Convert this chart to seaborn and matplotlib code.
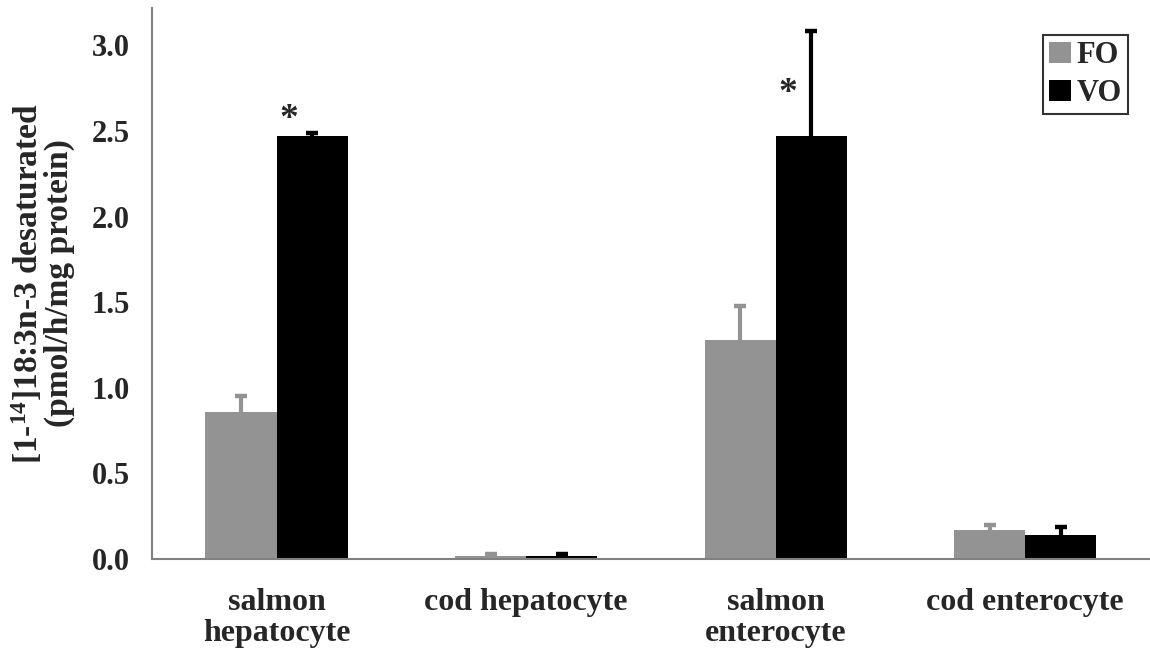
import matplotlib
matplotlib.use("Agg")
import matplotlib.pyplot as plt
import seaborn as sns
import pandas as pd
import numpy as np
from matplotlib.patches import Patch

categories = ['salmon\nhepatocyte', 'cod hepatocyte', 'salmon\nenterocyte', 'cod enterocyte']
groups = ['FO', 'VO']
fo_mean = [0.86, 0.015, 1.28, 0.17]
fo_err = [0.09, 0.016, 0.20, 0.028]
vo_mean = [2.47, 0.015, 2.47, 0.14]
vo_err = [0.018, 0.016, 0.615, 0.048]
signif = ['*', '', '*', '']
star_y = [2.57, 0.0, 2.72, 0.0]
yticks = [0.0, 0.5, 1.0, 1.5, 2.0, 2.5, 3.0]

sns.set_style("white")
plt.rcParams['font.family'] = ['Liberation Serif', 'DejaVu Serif']
plt.rcParams['font.weight'] = 'bold'
plt.rcParams['mathtext.fontset'] = 'custom'
plt.rcParams['mathtext.rm'] = 'Liberation Serif:bold'
plt.rcParams['mathtext.it'] = 'Liberation Serif:bold'
plt.rcParams['mathtext.bf'] = 'Liberation Serif:bold'

colors = {'FO': '#939393', 'VO': '#000000'}

df = pd.DataFrame({
    'cat': categories * 2,
    'grp': ['FO'] * 4 + ['VO'] * 4,
    'val': fo_mean + vo_mean,
})

fig = plt.figure(figsize=(11.5, 6.52), dpi=100)
ax = fig.add_axes([0.132, 0.1426, 0.868, 0.8454])
sns.barplot(data=df, x='cat', y='val', hue='grp', order=categories, hue_order=groups,
            palette=colors, errorbar=None, width=0.57, ax=ax, legend=False,
            saturation=1, linewidth=0)

errs = {'FO': fo_err, 'VO': vo_err}
means = {'FO': fo_mean, 'VO': vo_mean}
for cont, g in zip(ax.containers, groups):
    for i, bar in enumerate(cont):
        xc = bar.get_x() + bar.get_width() / 2
        top = means[g][i] + errs[g][i]
        ax.vlines(xc, means[g][i], top, colors=colors[g], linewidth=3, zorder=3)
        ax.plot([xc], [top], marker='_', markersize=9, markeredgewidth=3.2,
                color=colors[g], zorder=3)

vo_cont = ax.containers[1]
for i, s in enumerate(signif):
    if s:
        bar = vo_cont[i]
        xc = bar.get_x() + bar.get_width() * 0.17
        ax.text(xc, star_y[i], s, ha='center', va='center', fontsize=27, fontweight='bold')

ax.set_xlim(-0.5, 3.5)
ax.set_ylim(0, 3.22)
ax.set_yticks(yticks)
ax.set_yticklabels([f'{v:.1f}' for v in yticks], fontsize=22, fontweight='bold')
ax.set_xticks(range(4))
ax.set_xticklabels(categories, fontsize=23, fontweight='bold', linespacing=1.08)
ax.set_xticks([-0.5, 0.5, 1.5, 2.5, 3.5], minor=True)
ax.tick_params(axis='x', which='major', length=0, pad=21)
ax.tick_params(axis='x', which='minor', length=8, width=1, color='#808080', direction='out')
ax.tick_params(axis='y', which='major', length=6, width=1, color='#808080', direction='in', pad=16)

ax.set_xlabel('')
ax.set_ylabel('[1-$^{14}$]18:3n-3 desaturated\n(pmol/h/mg protein)', fontsize=24,
              fontweight='bold', labelpad=12, linespacing=0.95)

for side in ['top', 'right']:
    ax.spines[side].set_visible(False)
for side in ['left', 'bottom']:
    ax.spines[side].set_color('#808080')
    ax.spines[side].set_linewidth(1.5)

handles = [Patch(facecolor=colors[g], edgecolor='none', label=g) for g in groups]
leg = ax.legend(handles=handles, loc='upper right', bbox_to_anchor=(0.978, 0.951),
                prop={'family': 'Liberation Serif', 'weight': 'bold', 'size': 22},
                frameon=True, fancybox=False, edgecolor='black', handlelength=0.7,
                handleheight=0.7, handletextpad=0.2, borderpad=0.2, labelspacing=0.3,
                borderaxespad=0)
leg.get_frame().set_linewidth(1.5)

fig.savefig('out.png', dpi=100)
